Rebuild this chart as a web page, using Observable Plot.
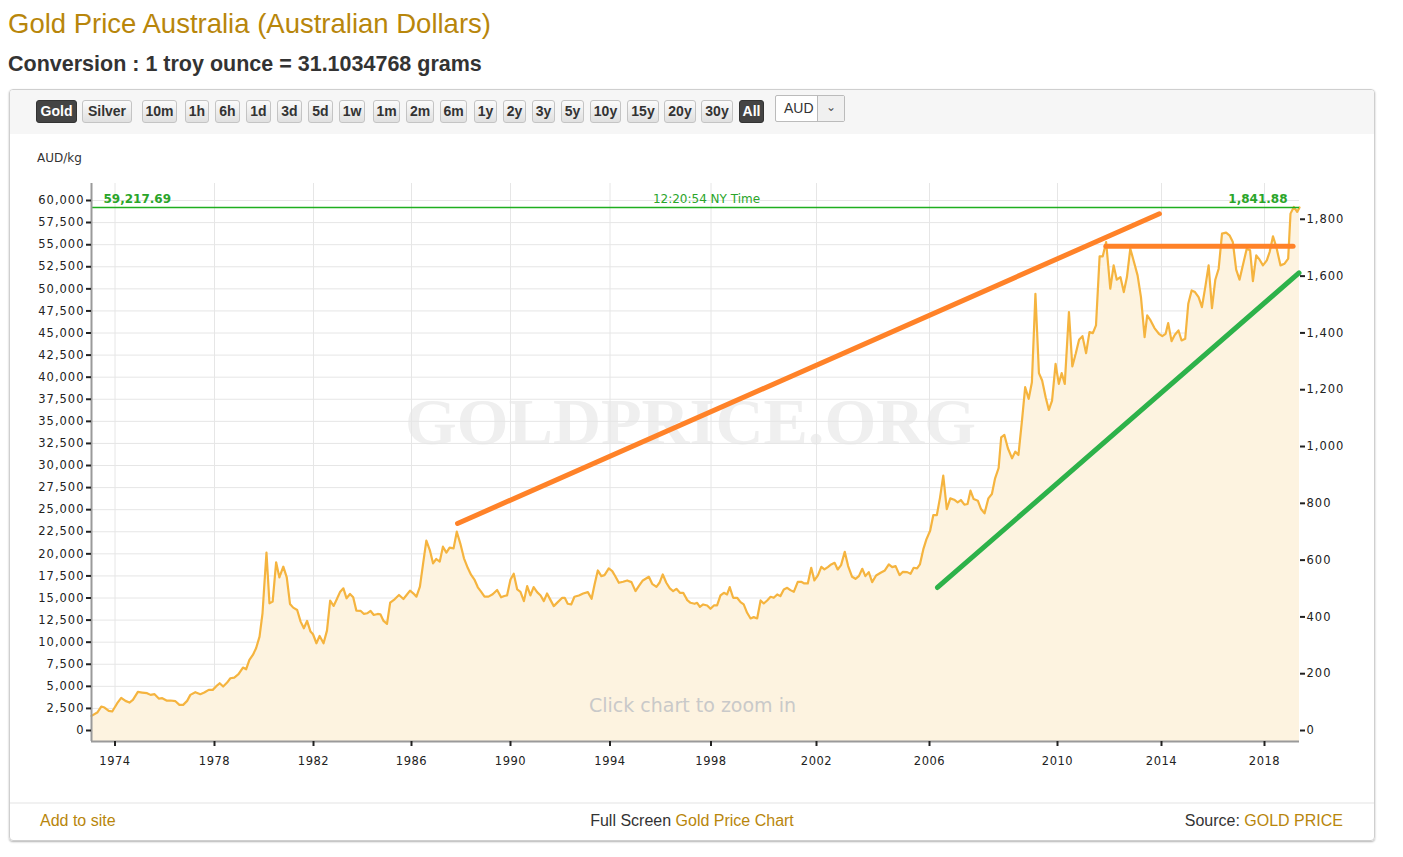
<!DOCTYPE html>
<html><head><meta charset="utf-8">
<script src="https://cdn.jsdelivr.net/npm/d3@7"></script>
<script src="https://cdn.jsdelivr.net/npm/@observablehq/plot@0.6"></script>
<style>
body{margin:0;background:#fff;font-family:"Liberation Sans",Arial,sans-serif;width:1403px;height:857px;position:relative;overflow:hidden}
#title{position:absolute;left:8px;top:8px;font-size:27.5px;color:#b8860b;white-space:nowrap}
#sub{position:absolute;left:8px;top:52px;font-size:21.5px;font-weight:bold;color:#333;white-space:nowrap}
#box{position:absolute;left:9px;top:89px;width:1364px;height:750px;border:1px solid #cfcfcf;border-radius:4px;box-shadow:0 1px 2px rgba(0,0,0,.3);overflow:hidden}
#toolbar{position:absolute;left:0;top:0;right:0;height:44px;background:#f6f6f6}
.btn{position:absolute;top:10px;height:21px;border:1px solid #c4c4c4;border-radius:3px;background:linear-gradient(#fbfbfb,#e0e0e0);font-weight:bold;font-size:14px;line-height:21px;text-align:center;color:#333;box-sizing:content-box}
.btn.on{background:#444;color:#fff;border-color:#333}
#sel{position:absolute;left:765px;top:5px;width:68px;height:25px;border:1px solid #bbb;border-radius:2px;background:#fff;font-size:14px}
#sel .t{position:absolute;left:8px;top:4px;color:#333}
#sel .a{position:absolute;right:0;top:0;width:26px;height:25px;border-left:1px solid #bbb;background:#f0f0f0;color:#555;text-align:center;line-height:22px;font-size:12px}
#unit{position:absolute;left:27px;top:61px;font-family:"DejaVu Sans";font-size:12px;color:#333}
#chart{position:absolute;left:0;top:85px}
#chart [aria-label="y-axis tick label"] text{letter-spacing:1px}
#chart [aria-label="x-axis tick label"] text{letter-spacing:0.5px}
#foot{position:absolute;left:0;right:0;top:712px;height:38px;border-top:2px solid #f1f1f1;font-size:16px;color:#333}
#foot a{color:#b8860b;text-decoration:none}
#foot .l{position:absolute;left:30px;top:8px}
#foot .c{position:absolute;left:0;right:0;text-align:center;top:8px}
#foot .r{position:absolute;right:31px;top:8px}
</style></head>
<body>
<div id="title">Gold Price Australia (Australian Dollars)</div>
<div id="sub">Conversion : 1 troy ounce = 31.1034768 grams</div>
<div id="box">
  <div id="toolbar"></div>
  <div id="sel"><span class="t">AUD</span><span class="a">&#8964;</span></div>
  <div id="unit">AUD/kg</div>
  <div id="chart"></div>
  <div id="foot">
    <span class="l"><a>Add to site</a></span>
    <span class="c">Full Screen <a>Gold Price Chart</a></span>
    <span class="r">Source: <a>GOLD PRICE</a></span>
  </div>
</div>
<script>
// ---------- data ----------
const years = [
1973.06,1973.29,1973.45,1973.58,1973.75,1973.89,1974.09,1974.25,1974.42,1974.58,1974.72,1974.92,
1975.09,1975.29,1975.43,1975.59,1975.76,1975.90,1976.07,1976.23,1976.43,1976.59,1976.74,1976.90,
1977.03,1977.23,1977.43,1977.59,1977.77,1977.93,1978.10,1978.21,1978.35,1978.51,1978.64,1978.80,1978.97,
1979.15,1979.28,1979.41,1979.55,1979.68,1979.82,1979.94,1980.00,1980.10,1980.22,1980.35,1980.49,1980.62,1980.78,1980.92,
1981.05,1981.18,1981.34,1981.48,1981.61,1981.74,1981.88,1981.98,1982.12,1982.25,1982.41,1982.55,1982.68,1982.82,1982.95,
1983.09,1983.22,1983.35,1983.49,1983.62,1983.75,1983.93,1984.06,1984.19,1984.33,1984.46,1984.62,1984.73,1984.86,
1985.00,1985.13,1985.31,1985.49,1985.67,1985.80,1985.94,1986.07,1986.20,1986.34,1986.47,1986.60,1986.74,1986.87,
1987.00,1987.14,1987.27,1987.41,1987.54,1987.70,1987.83,1987.97,1988.12,1988.28,1988.41,1988.55,1988.68,1988.81,1988.95,
1989.11,1989.28,1989.46,1989.62,1989.75,1989.86,
1990.00,1990.13,1990.27,1990.40,1990.54,1990.67,1990.80,1990.93,1991.07,1991.21,1991.34,1991.47,1991.61,1991.74,1991.90,
1992.08,1992.18,1992.30,1992.44,1992.57,1992.75,1992.92,1993.11,1993.26,1993.38,1993.51,1993.65,1993.78,1993.95,
1994.09,1994.22,1994.35,1994.52,1994.68,1994.85,1995.01,1995.14,1995.30,1995.54,1995.67,1995.84,1995.96,
1996.09,1996.23,1996.37,1996.50,1996.63,1996.77,1996.90,1997.06,1997.19,1997.35,1997.45,1997.56,1997.69,1997.85,1997.98,
1998.11,1998.23,1998.36,1998.49,1998.61,1998.71,1998.84,1998.99,1999.12,1999.24,1999.37,1999.50,1999.62,1999.75,1999.88,
2000.00,2000.13,2000.26,2000.38,2000.51,2000.63,2000.76,2000.89,2001.01,2001.14,2001.29,2001.42,2001.54,2001.67,2001.80,2001.92,
2002.05,2002.17,2002.28,2002.40,2002.52,2002.64,2002.75,2002.87,2003.00,2003.12,2003.26,2003.38,2003.50,2003.62,2003.73,2003.85,2003.97,
2004.11,2004.27,2004.42,2004.56,2004.68,2004.80,2004.94,2005.06,2005.21,2005.33,2005.44,2005.56,2005.66,2005.78,2005.89,
2006.02,2006.12,2006.23,2006.33,2006.43,2006.54,2006.65,2006.77,2006.88,2006.98,2007.09,2007.19,2007.28,2007.38,2007.51,2007.61,2007.72,2007.84,2007.95,
2008.05,2008.16,2008.24,2008.34,2008.45,2008.58,2008.68,2008.78,2008.89,2008.99,2009.10,2009.20,2009.31,2009.42,2009.52,2009.63,2009.73,2009.83,2009.94,
2010.05,2010.16,2010.28,2010.44,2010.57,2010.70,2010.83,2010.96,2011.10,2011.23,2011.36,2011.48,2011.62,2011.74,2011.87,
2012.03,2012.16,2012.28,2012.42,2012.55,2012.67,2012.80,2012.96,2013.08,2013.21,2013.35,2013.45,2013.58,2013.73,2013.90,
2014.03,2014.16,2014.26,2014.39,2014.52,2014.66,2014.78,2014.92,2015.04,2015.17,2015.30,2015.44,2015.57,2015.70,2015.83,2015.96,
2016.09,2016.22,2016.35,2016.51,2016.64,2016.77,2016.90,2017.03,2017.16,2017.31,2017.44,2017.55,2017.68,2017.81,2017.94,
2018.09,2018.20,2018.33,2018.46,2018.62,2018.78,2018.92,2019.01,2019.14,2019.27,2019.36];
const audPerKg = [
1659,2036,2714,2600,2224,2150,3091,3695,3355,3167,3468,4373,
4298,4222,4034,4109,3619,3657,3393,3393,3318,2903,2903,3355,
4034,4335,4109,4298,4600,4600,5090,5353,4976,5429,5919,5994,6371,
7125,6937,7992,8558,9312,10631,13270,15909,20132,14401,14590,19038,17342,18548,17342,
14326,13911,13647,12328,11574,12403,11197,10895,9877,10707,9877,11310,14703,14100,14854,
15721,16098,14967,15457,15080,13572,13534,13195,13270,13534,13082,13195,13157,12403,
12064,14477,14854,15344,14892,15344,15834,15532,15155,16286,18925,21489,20433,18925,
19416,19114,20810,20132,20697,20622,22507,21187,19491,18360,17606,17040,16211,15721,15155,
15155,15419,15909,15080,15230,15289,
17101,17743,15968,15704,14647,16346,15289,16233,15666,15289,14647,15515,14760,14081,14534,
15025,15025,14345,14270,15138,15289,15515,15666,14911,16535,18120,17478,17592,18347,
18045,17403,16723,16837,16988,16799,15780,16346,16988,17403,16610,16270,16723,
17667,16723,16082,15780,16044,15591,15591,14760,14458,14345,14458,14005,14270,14156,13779,
14156,14156,15289,15591,15402,16233,15025,15025,14534,14270,13326,12684,12835,12684,14723,
14383,14723,15138,15025,15402,15213,15968,16157,15893,15704,16837,16837,16648,16648,18422,16988,
17554,18535,18233,18498,18800,18988,18233,18724,20234,18611,17403,17176,17478,18309,17478,17931,16799,
17554,17856,18120,18800,18498,18611,17592,17969,17931,17743,18422,18347,18800,20498,21631,
22616,24392,24392,26395,28851,25072,26281,26130,25828,26092,25563,25639,27150,26206,26017,25072,24581,26281,26773,
28549,29720,33197,33461,31950,30816,31572,31194,35086,38865,37543,39432,49447,40453,39621,37732,36296,37354,41511,
39243,40453,39243,47369,41209,42645,44232,44648,42720,45101,44988,45857,53680,53680,55304,
50014,52659,51034,51336,49636,51336,54548,52848,51525,49069,44534,46990,46423,45554,44912,
44648,44912,46121,44081,44799,45290,44156,44345,48313,49825,49636,49069,47935,50202,52659,47822,
51034,52281,56249,56363,56060,55304,52168,51034,52659,54548,54359,50883,53793,53302,52659,
53226,54171,55946,54737,52659,52848,53415,58517,59273,58706,59217.69];

const xTickYears = [1974,1978,1982,1986,1990,1994,1998,2002,2006,2010,2014,2018];
const leftTicks = [0,2500,5000,7500,10000,12500,15000,17500,20000,22500,25000,27500,30000,
  32500,35000,37500,40000,42500,45000,47500,50000,52500,55000,57500,60000];
const rightTicksOz = [0,200,400,600,800,1000,1200,1400,1600,1800];
const ozPerKg = 32.1507466;
const currentPriceKg = 59217.69;
const currentPriceOz = 1841.88;
const timeLabel = "12:20:54 NY Time";

// hand-drawn trend lines (year, AUD/kg)
const upperTrendYears = [1987.86, 2013.92];
const upperTrendValues = [23434, 58500];
const resistanceYears = [2011.86, 2019.11];
const resistanceValues = [54813, 54813];
const supportYears = [2006.25, 2019.34];
const supportValues = [16191, 51800];

// ---------- build ----------
const zip = (xs, ys) => xs.map((x, i) => ({year: x, v: ys[i]}));
const series = zip(years, audPerKg);
const upper = zip(upperTrendYears, upperTrendValues);
const resist = zip(resistanceYears, resistanceValues);
const support = zip(supportYears, supportValues);

const xStart = years[0], xEnd = years[years.length - 1];
const yMin = -1245, yMax = 61927;   // plot padding below 0 / above 60,000
const fmt = d3.format(",");

const chart = Plot.plot({
  width: 1364, height: 600,
  marginLeft: 81, marginRight: 75, marginTop: 8, marginBottom: 34,
  style: {fontFamily: "DejaVu Sans", fontSize: "12px", color: "#222", background: "transparent"},
  x: {type: "linear", domain: [xStart, ...xTickYears, xEnd],
      range: [81, 104.5, 204, 303, 401, 500, 599.5, 700.5, 806, 919, 1047, 1151, 1254, 1289]},
  y: {domain: [yMin, yMax]},
  marks: [
    Plot.text(["GOLDPRICE.ORG"], {frameAnchor: "middle", dx: -5, dy: -40, fontSize: 66.5,
      fontFamily: "Liberation Serif", fontWeight: "bold", fill: "#efefef"}),
    Plot.gridY(leftTicks, {stroke: "#e6e6e6", strokeOpacity: 1}),
    Plot.gridX(xTickYears, {stroke: "#e6e6e6", strokeOpacity: 1}),
    Plot.areaY(series, {x: "year", y1: yMin, y2: "v", fill: "#fdf3e0"}),
    Plot.lineY(series, {x: "year", y: "v", stroke: "#f5b43f", strokeWidth: 2.2}),
    Plot.text(["Click chart to zoom in"], {frameAnchor: "middle", dx: -3, dy: 243, fontSize: 19, fill: "#c9c9c9"}),
    Plot.ruleY([currentPriceKg], {stroke: "#1fae1f", strokeWidth: 1.4}),
    Plot.text([currentPriceKg], {y: d => d, text: d => d3.format(",.2f")(d), frameAnchor: "left",
      textAnchor: "start", dx: 12, dy: -8, fill: "#2aa52a", fontWeight: "bold", fontSize: 12}),
    Plot.text([currentPriceKg], {y: d => d, text: () => timeLabel, frameAnchor: "middle",
      dx: 11, dy: -8, fill: "#2aa52a", fontSize: 12}),
    Plot.text([currentPriceKg], {y: d => d, text: () => d3.format(",.2f")(currentPriceOz), frameAnchor: "right",
      textAnchor: "end", dx: -12, dy: -8, fill: "#2aa52a", fontWeight: "bold", fontSize: 12}),
    Plot.line(upper, {x: "year", y: "v", stroke: "#ff8228", strokeWidth: 5, strokeLinecap: "round"}),
    Plot.line(resist, {x: "year", y: "v", stroke: "#ff8228", strokeWidth: 5, strokeLinecap: "round"}),
    Plot.line(support, {x: "year", y: "v", stroke: "#2db24a", strokeWidth: 5, strokeLinecap: "round"}),
    Plot.ruleX([xStart], {stroke: "#9a9a9a", strokeWidth: 2}),
    Plot.ruleY([yMin], {stroke: "#9a9a9a", strokeWidth: 2}),
    Plot.axisY(leftTicks, {anchor: "left", tickSize: 5, tickPadding: 2, tickFormat: fmt, label: null,
      stroke: "#222", strokeWidth: 2, fontSize: 11.5}),
    Plot.axisY(rightTicksOz.map(d => d * ozPerKg), {anchor: "right", tickSize: 5, tickPadding: 2,
      tickFormat: d => fmt(Math.round(d / ozPerKg)), label: null, stroke: "#222", strokeWidth: 2, fontSize: 11.5}),
    Plot.axisX(xTickYears, {anchor: "bottom", tickSize: 5, tickPadding: 10, tickFormat: d => String(d),
      label: null, stroke: "#222", strokeWidth: 2, fontSize: 11.5})
  ]
});
document.getElementById("chart").appendChild(chart);

// ---------- toolbar ----------
const buttons = [
  ["Gold",26,39,true],["Silver",72,48],["10m",132,33],["1h",175,22],["6h",205,23],["1d",236,23],
  ["3d",267,23],["5d",298,23],["1w",329,24],["1m",363,25],["2m",396,26],["6m",430,25],
  ["1y",464,21],["2y",493,21],["3y",522,21],["5y",551,21],["10y",580,29],["15y",617,30],
  ["20y",654,30],["30y",691,30],["All",729,23,true]];
const tb = document.getElementById("toolbar");
for (const [t, l, w, on] of buttons) {
  const b = document.createElement("div");
  b.className = "btn" + (on ? " on" : "");
  b.style.left = l + "px"; b.style.width = w + "px";
  b.textContent = t;
  tb.appendChild(b);
}
</script>
</body></html>
